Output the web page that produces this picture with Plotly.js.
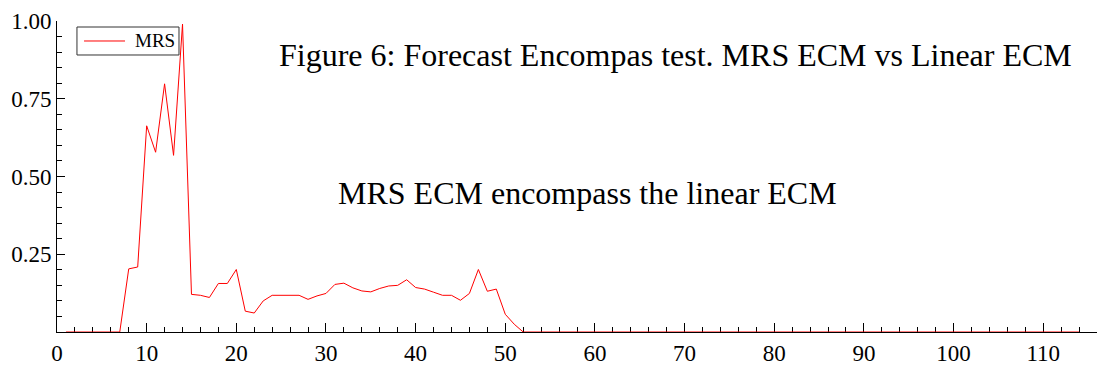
<!DOCTYPE html>
<html>
<head>
<meta charset="utf-8">
<script src="https://cdn.plot.ly/plotly-3.0.1.min.js"></script>
<style>html,body{margin:0;padding:0;background:#fff;}#chart{width:1103px;height:372px;}</style>
</head>
<body>
<div id="chart"></div>
<script>
const seriesName = "MRS";
const period = [1,2,3,4,5,6,7,8,9,10,11,12,13,14,15,16,17,18,19,20,21,22,23,24,25,26,27,28,29,30,
  31,32,33,34,35,36,37,38,39,40,41,42,43,44,45,46,47,48,49,50,51,52,53,54,55,56,57,58,59,60,
  61,62,63,64,65,66,67,68,69,70,71,72,73,74,75,76,77,78,79,80,81,82,83,84,85,86,87,88,89,90,
  91,92,93,94,95,96,97,98,99,100,101,102,103,104,105,106,107,108,109,110,111,112,113,114];
const mrs = [0,0,0,0,0,0,0,0.203,0.209,0.663,0.578,0.798,0.568,0.99,0.121,0.118,0.111,0.156,0.156,0.201,
  0.067,0.061,0.100,0.118,0.118,0.118,0.118,0.105,0.116,0.124,0.153,0.157,0.142,0.132,0.129,0.140,0.148,0.150,0.168,0.143,
  0.138,0.128,0.118,0.118,0.102,0.124,0.201,0.131,0.138,0.057,0.025,0,0,0,0,0,0,0,0,0,
  0,0,0,0,0,0,0,0,0,0,0,0,0,0,0,0,0,0,0,0,0,0,0,0,0,0,0,0,0,0,
  0,0,0,0,0,0,0,0,0,0,0,0,0,0,0,0,0,0,0,0,0,0,0,0];
const xTickVals = [0,10,20,30,40,50,60,70,80,90,100,110];
const yTickVals = [0.25,0.5,0.75,1.0];
const yTickText = ["0.25","0.50","0.75","1.00"];
const titleText = "Figure 6: Forecast Encompas test. MRS ECM vs Linear ECM";
const noteText = "MRS ECM encompass the linear ECM";

const font = "Liberation Serif";
const lineColor = "#ff0000";
Plotly.newPlot("chart", [{
  x: period, y: mrs, type: "scatter", mode: "lines", name: seriesName,
  line: {color: lineColor, width: 1}
}], {
  width: 1103, height: 372,
  font: {family: font, color: "#000"},
  margin: {l: 57, r: 6, t: 21, b: 40},
  paper_bgcolor: "#fff", plot_bgcolor: "#fff",
  showlegend: false,
  xaxis: {range: [0, 116], showgrid: false, zeroline: false, showline: true, linecolor: "#000", linewidth: 1,
    layer: "below traces",
    tickmode: "array", tickvals: xTickVals, ticks: "inside", ticklen: 9, tickcolor: "#000",
    minor: {dtick: 2, ticks: "inside", ticklen: 5, tickcolor: "#000", showgrid: false},
    tickfont: {family: font, size: 23, color: "#000"}},
  yaxis: {range: [0, 1], showgrid: false, zeroline: false, showline: true, linecolor: "#000", linewidth: 1,
    layer: "below traces",
    tickmode: "array", tickvals: yTickVals, ticktext: yTickText, ticks: "inside", ticklen: 8, tickcolor: "#000",
    minor: {dtick: 0.05, ticks: "inside", ticklen: 5, tickcolor: "#000", showgrid: false},
    tickfont: {family: font, size: 23, color: "#000"}},
  shapes: [
    {type: "rect", xref: "paper", yref: "paper", x0: 0.0192, x1: 0.1173, y0: 0.8907, y1: 0.9807,
      line: {color: "#333", width: 1}, fillcolor: "#fff", layer: "above"},
    {type: "line", xref: "paper", yref: "paper", x0: 0.0260, x1: 0.0654, y0: 0.9357, y1: 0.9357,
      line: {color: lineColor, width: 1}, layer: "above"}
  ],
  annotations: [
    {text: seriesName, xref: "paper", yref: "paper", x: 0.0731, y: 0.9357, xanchor: "left", yanchor: "middle",
      showarrow: false, font: {family: font, size: 19, color: "#000"}},
    {text: titleText, xref: "paper", yref: "paper", x: 0.595, y: 0.891, xanchor: "center", yanchor: "middle",
      showarrow: false, font: {family: font, size: 32, color: "#000"}},
    {text: noteText, xref: "paper", yref: "paper", x: 0.510, y: 0.447, xanchor: "center", yanchor: "middle",
      showarrow: false, font: {family: font, size: 32, color: "#000"}}
  ]
}, {displayModeBar: false, staticPlot: true});
</script>
</body>
</html>
